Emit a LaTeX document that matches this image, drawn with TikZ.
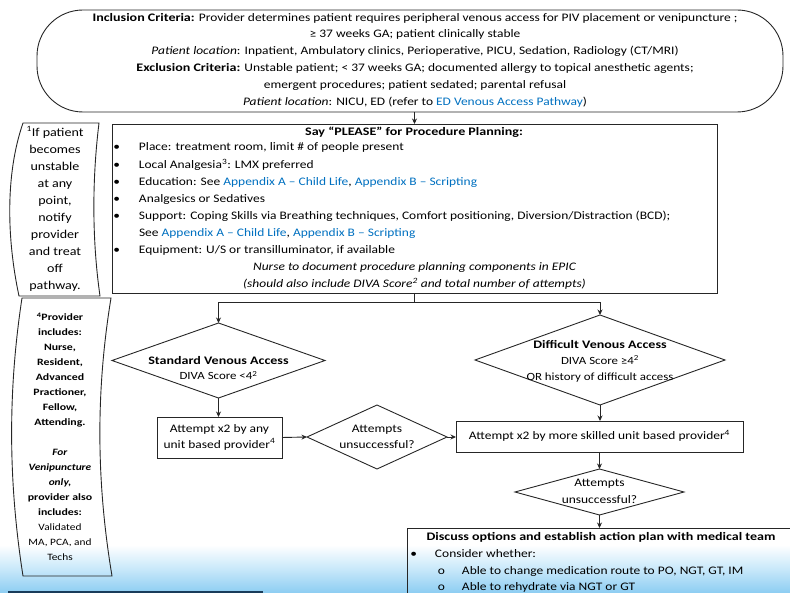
\documentclass[tikz,border=0pt]{standalone}
\usepackage{fontspec}
\setmainfont{Carlito}[FakeStretch=1.17, BoldFeatures={FakeStretch=1.22}, BoldItalicFeatures={FakeStretch=1.17}]
\usetikzlibrary{shapes.geometric,arrows.meta,calc}
\definecolor{lnk}{RGB}{0,112,192}
\definecolor{bgb}{RGB}{140,205,242}
\definecolor{bgm}{RGB}{200,232,250}
\definecolor{botline}{RGB}{25,60,90}
\newcommand{\bul}{\llap{\textbullet\hspace{19pt}}}
\newcommand{\sbul}{\llap{o\hspace{17pt}}}
\begin{document}
\begin{tikzpicture}[x=1pt,y=-1pt,
  every node/.style={inner sep=0pt, outer sep=0pt},
  shp/.style={draw=black!85, line width=0.9pt},
  arr/.style={draw=black!85, line width=0.9pt, -{Stealth[length=5.5pt,width=5pt]}},
  ln/.style={draw=black!85, line width=0.9pt},
  tl/.style={anchor=west, text height=8pt, text depth=2.5pt, font=\fontsize{11.5}{16}\selectfont},
  tc/.style={anchor=center, text height=8pt, text depth=2.5pt, font=\fontsize{11.5}{16}\selectfont},
  note/.style 2 args={align=center, font=\fontsize{#1}{#2}\selectfont}
]
\useasboundingbox (0,0) rectangle (790,593);
% background gradient at the bottom
\shade[top color=white, bottom color=bgb, middle color=bgm, draw=none] (0,545) rectangle (790,593);
\draw[botline, line width=2pt] (8,592) -- (263,592);

% ---------- top terminator ----------
\node[shp, rectangle, rounded corners=46pt, minimum width=746pt, minimum height=102pt] (incl) at (410,61) {};
\node[align=center, font=\fontsize{11.5}{16.8}\selectfont] (incltxt) at (415,60) {%
\textbf{Inclusion Criteria:} Provider determines patient requires peripheral venous access for PIV placement or venipuncture ;\\
≥ 37 weeks GA; patient clinically stable\\
\textit{Patient location}: Inpatient, Ambulatory clinics, Perioperative, PICU, Sedation, Radiology (CT/MRI)\\
\textbf{Exclusion Criteria:} Unstable patient; < 37 weeks GA; documented allergy to topical anesthetic agents;\\
emergent procedures; patient sedated; parental refusal\\
\textit{Patient location}: NICU, ED (refer to \textcolor{lnk}{ED Venous Access Pathway})};

% ---------- PLEASE box ----------
\node[shp, rectangle, minimum width=605pt, minimum height=169pt] (please) at (414.5,208.5) {};
\node[tc, font=\fontsize{11.5}{16}\selectfont\bfseries] (ptitle) at (414,133) {Say “PLEASE” for Procedure Planning:};
\node[tl] (p1) at (139,148) {\bul Place: treatment room, limit \# of people present};
\node[tl] (p2) at (139,166) {\bul Local Analgesia\textsuperscript{3}: LMX preferred};
\node[tl] (p3) at (139,183) {\bul Education: See \textcolor{lnk}{Appendix A – Child Life}, \textcolor{lnk}{Appendix B – Scripting}};
\node[tl] (p4) at (139,200) {\bul Analgesics or Sedatives};
\node[tl] (p5) at (139,217) {\bul Support: Coping Skills via Breathing techniques, Comfort positioning, Diversion/Distraction (BCD);};
\node[tl] (p6) at (139,234) {See \textcolor{lnk}{Appendix A – Child Life}, \textcolor{lnk}{Appendix B – Scripting}};
\node[tl] (p7) at (139,251) {\bul Equipment: U/S or transilluminator, if available};
\node[tc, font=\fontsize{11.5}{16}\selectfont\itshape] (p8) at (414.5,268) {Nurse to document procedure planning components in EPIC};
\node[tc, font=\fontsize{11.5}{16}\selectfont\itshape] (p9) at (414.5,285) {(should also include DIVA Score\textsuperscript{2} and total number of attempts)};

% ---------- left notes ----------
\draw[shp] (23,123) -- (99,123) .. controls (92,180) and (92,240) .. (100,296)
  -- (19,296) .. controls (7,240) and (5,175) .. (23,123) -- cycle;
\node[note={12}{17}] (n1) at (55,209) {\textsuperscript{1}If patient\\becomes\\unstable\\at any\\point,\\notify\\provider\\and treat\\off\\pathway.};

\draw[shp] (22,298) -- (111,298) .. controls (96,390) and (96,480) .. (112,576)
  -- (23,576) .. controls (8,480) and (8,390) .. (22,298) -- cycle;
\node[note={9.7}{15}] (n2) at (60,437) {\textbf{\textsuperscript{4}Provider}\\\textbf{includes:}\\\textbf{Nurse,}\\\textbf{Resident,}\\\textbf{Advanced}\\\textbf{Practioner,}\\\textbf{Fellow,}\\\textbf{Attending.}\\[15pt]
\textbf{\textit{For}}\\\textbf{\textit{Venipuncture}}\\\textbf{\textit{only,}}\\\textbf{provider also}\\\textbf{includes:}\\Validated\\MA, PCA, and\\Techs};

% ---------- decisions and boxes ----------
\node[shp, diamond, minimum width=213pt, minimum height=75pt] (std) at (218.5,360.5) {};
\node[align=center, font=\fontsize{11.5}{15}\selectfont] (stdtxt) at (218.5,368.5) {\textbf{Standard Venous Access}\\{\fontsize{11}{15}\selectfont DIVA Score <4\textsuperscript{2}}};

\node[shp, diamond, minimum width=250pt, minimum height=90pt] (dif) at (600,360) {};
\node[align=center, font=\fontsize{11.5}{16}\selectfont] (diftxt) at (600,361) {\textbf{Difficult Venous Access}\\{\fontsize{11}{16}\selectfont DIVA Score ≥4\textsuperscript{2}}\\{\fontsize{11}{16}\selectfont OR history of difficult access}};

\node[shp, rectangle, minimum width=125pt, minimum height=41pt] (b1) at (219.5,437.5) {};
\node[align=center, font=\fontsize{11.5}{16}\selectfont] (b1txt) at (219.5,437) {Attempt x2 by any\\unit based provider\textsuperscript{4}};

\node[shp, diamond, minimum width=140pt, minimum height=64pt] (d3) at (377,437) {};
\node[align=center, font=\fontsize{11.5}{16}\selectfont] (d3txt) at (377,437) {Attempts\\unsuccessful?};

\node[shp, rectangle, minimum width=287pt, minimum height=31pt] (b2) at (599.5,436.5) {};
\node[tc] (b2txt) at (599.5,437) {Attempt x2 by more skilled unit based provider\textsuperscript{4}};

\node[shp, diamond, minimum width=169pt, minimum height=46pt] (d4) at (599.5,492) {};
\node[align=center, font=\fontsize{11.5}{17}\selectfont] (d4txt) at (599.5,491.5) {Attempts\\unsuccessful?};

\node[shp, rectangle, anchor=north west, minimum width=400pt, minimum height=100pt] (disc) at (407,528) {};
\node[tc, font=\fontsize{11.5}{16}\selectfont\bfseries] (dtitle) at (601,538) {Discuss options and establish action plan with medical team};
\node[tl] (dl1) at (435,555) {\llap{\textbullet\hspace{18pt}}Consider whether:};
\node[tl] (dl2) at (462,572) {\sbul Able to change medication route to PO, NGT, GT, IM};
\node[tl] (dl3) at (462,588) {\sbul Able to rehydrate via NGT or GT};

% ---------- connectors ----------
\draw[arr] (incl.south -| please.north) -- (please.north);
\coordinate (jn) at (414.5,302);
\draw[ln] (please.south) -- (jn);
\draw[arr] (jn) -| (std.north);
\draw[arr] (jn) -| (dif.north);
\draw[arr] (std.south) -- (std.south |- b1.north);
\draw[arr] (b1.east) -- (d3.west);
\draw[arr] (d3.east) -- (d3.east -| b2.west);
\draw[arr] (dif.south) -- (dif.south |- b2.north);
\draw[arr] (b2.south) -- (d4.north);
\draw[arr] (d4.south) -- (d4.south |- disc.north);
\end{tikzpicture}
\end{document}
